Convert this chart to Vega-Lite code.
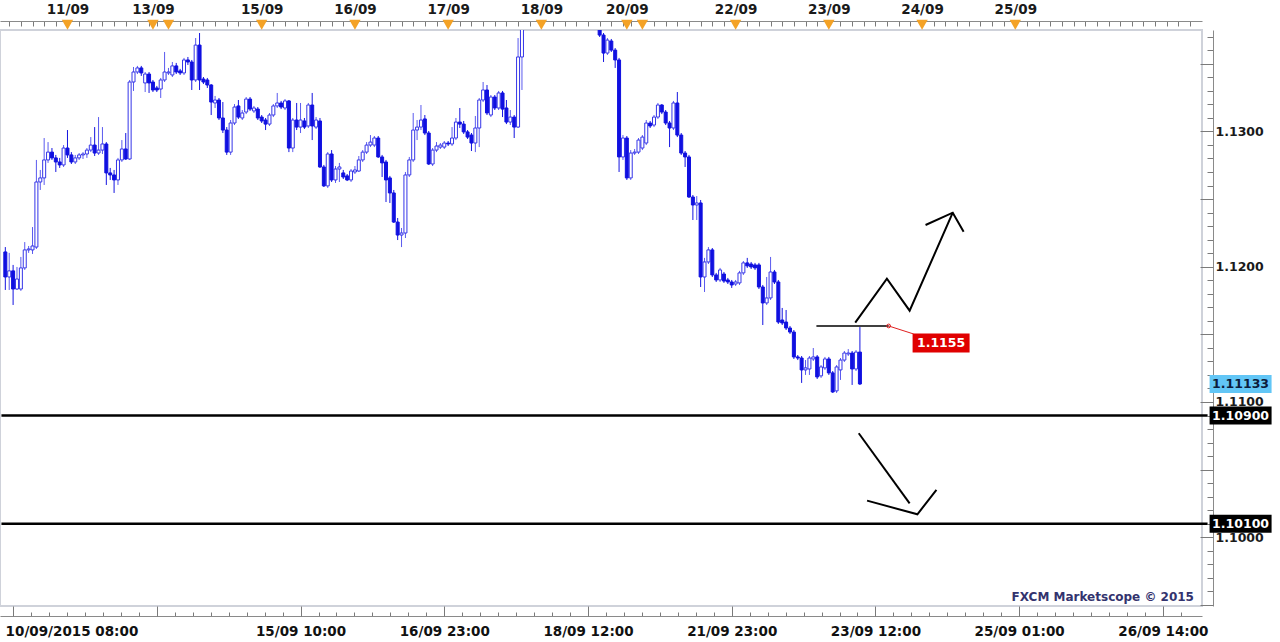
{
 "$schema": "https://vega.github.io/schema/vega-lite/v6.json",
 "width": 1202, "height": 576,
 "autosize": {"type": "none"},
 "padding": {"left": 0, "top": 30, "right": 78, "bottom": 36},
 "background": "white",
 "config": {"view": {"stroke": "#cfd2da", "strokeWidth": 2},
   "axis": {"labelFont": "DejaVu Sans", "labelFontWeight": "bold", "labelColor": "#1a1a1a", "domainColor": "#8a8a8a", "tickColor": "#7a7a7a", "grid": false, "labelOverlap": false, "labelBound": false},
   "text": {"font": "DejaVu Sans"}},
 "resolve": {"axis": {"x": "independent", "y": "independent"}},
 "datasets": {
  "candles": [
{"i":0,"o":1.12109,"h":1.12145,"l":1.11828,"c":1.11924},
{"i":1,"o":1.11924,"h":1.12102,"l":1.11828,"c":1.11969},
{"i":2,"o":1.11969,"h":1.12013,"l":1.11717,"c":1.11835},
{"i":3,"o":1.11835,"h":1.11998,"l":1.11828,"c":1.11909},
{"i":4,"o":1.11835,"h":1.12072,"l":1.11821,"c":1.11991},
{"i":5,"o":1.11991,"h":1.12182,"l":1.11976,"c":1.12124},
{"i":6,"o":1.12124,"h":1.12153,"l":1.12102,"c":1.12131},
{"i":7,"o":1.12124,"h":1.12293,"l":1.12094,"c":1.12153},
{"i":8,"o":1.12145,"h":1.12789,"l":1.12131,"c":1.12626},
{"i":9,"o":1.12626,"h":1.12715,"l":1.12567,"c":1.12656},
{"i":10,"o":1.12656,"h":1.12951,"l":1.12604,"c":1.12789},
{"i":11,"o":1.12789,"h":1.12921,"l":1.12767,"c":1.12847},
{"i":12,"o":1.12847,"h":1.12877,"l":1.12789,"c":1.12804},
{"i":13,"o":1.12804,"h":1.12826,"l":1.12700,"c":1.12774},
{"i":14,"o":1.12774,"h":1.12804,"l":1.12730,"c":1.12752},
{"i":15,"o":1.12752,"h":1.12899,"l":1.12737,"c":1.12877},
{"i":16,"o":1.12877,"h":1.13010,"l":1.12804,"c":1.12826},
{"i":17,"o":1.12826,"h":1.12847,"l":1.12759,"c":1.12774},
{"i":18,"o":1.12774,"h":1.12826,"l":1.12759,"c":1.12804},
{"i":19,"o":1.12804,"h":1.12840,"l":1.12789,"c":1.12826},
{"i":20,"o":1.12826,"h":1.12847,"l":1.12796,"c":1.12833},
{"i":21,"o":1.12833,"h":1.12877,"l":1.12804,"c":1.12862},
{"i":22,"o":1.12862,"h":1.12958,"l":1.12847,"c":1.12899},
{"i":23,"o":1.12899,"h":1.13032,"l":1.12818,"c":1.12840},
{"i":24,"o":1.12840,"h":1.13106,"l":1.12826,"c":1.12862},
{"i":25,"o":1.12862,"h":1.13032,"l":1.12833,"c":1.12907},
{"i":26,"o":1.12907,"h":1.12921,"l":1.12604,"c":1.12693},
{"i":27,"o":1.12693,"h":1.12730,"l":1.12641,"c":1.12678},
{"i":28,"o":1.12678,"h":1.12715,"l":1.12545,"c":1.12641},
{"i":29,"o":1.12641,"h":1.12804,"l":1.12604,"c":1.12789},
{"i":30,"o":1.12789,"h":1.12936,"l":1.12774,"c":1.12870},
{"i":31,"o":1.12870,"h":1.12988,"l":1.12789,"c":1.12796},
{"i":32,"o":1.12796,"h":1.13380,"l":1.12789,"c":1.13365},
{"i":33,"o":1.13365,"h":1.13476,"l":1.13299,"c":1.13439},
{"i":34,"o":1.13439,"h":1.13484,"l":1.13424,"c":1.13469},
{"i":35,"o":1.13469,"h":1.13484,"l":1.13410,"c":1.13432},
{"i":36,"o":1.13358,"h":1.13439,"l":1.13291,"c":1.13424},
{"i":37,"o":1.13424,"h":1.13439,"l":1.13284,"c":1.13358},
{"i":38,"o":1.13365,"h":1.13380,"l":1.13291,"c":1.13306},
{"i":39,"o":1.13321,"h":1.13336,"l":1.13291,"c":1.13306},
{"i":40,"o":1.13313,"h":1.13395,"l":1.13247,"c":1.13380},
{"i":41,"o":1.13380,"h":1.13587,"l":1.13365,"c":1.13439},
{"i":42,"o":1.13432,"h":1.13469,"l":1.13417,"c":1.13439},
{"i":43,"o":1.13417,"h":1.13513,"l":1.13402,"c":1.13484},
{"i":44,"o":1.13484,"h":1.13506,"l":1.13424,"c":1.13439},
{"i":45,"o":1.13447,"h":1.13462,"l":1.13417,"c":1.13432},
{"i":46,"o":1.13432,"h":1.13543,"l":1.13417,"c":1.13528},
{"i":47,"o":1.13528,"h":1.13550,"l":1.13491,"c":1.13513},
{"i":48,"o":1.13513,"h":1.13528,"l":1.13306,"c":1.13380},
{"i":49,"o":1.13380,"h":1.13690,"l":1.13365,"c":1.13638},
{"i":50,"o":1.13638,"h":1.13727,"l":1.13306,"c":1.13380},
{"i":51,"o":1.13387,"h":1.13402,"l":1.13350,"c":1.13365},
{"i":52,"o":1.13380,"h":1.13395,"l":1.13321,"c":1.13343},
{"i":53,"o":1.13343,"h":1.13350,"l":1.13121,"c":1.13217},
{"i":54,"o":1.13210,"h":1.13262,"l":1.13173,"c":1.13232},
{"i":55,"o":1.13232,"h":1.13247,"l":1.13084,"c":1.13099},
{"i":56,"o":1.13099,"h":1.13217,"l":1.12988,"c":1.13010},
{"i":57,"o":1.13010,"h":1.13032,"l":1.12826,"c":1.12847},
{"i":58,"o":1.12847,"h":1.13084,"l":1.12826,"c":1.13062},
{"i":59,"o":1.13062,"h":1.13202,"l":1.13047,"c":1.13180},
{"i":60,"o":1.13188,"h":1.13232,"l":1.13092,"c":1.13106},
{"i":61,"o":1.13099,"h":1.13158,"l":1.13084,"c":1.13136},
{"i":62,"o":1.13143,"h":1.13254,"l":1.13128,"c":1.13239},
{"i":63,"o":1.13239,"h":1.13254,"l":1.13151,"c":1.13165},
{"i":64,"o":1.13151,"h":1.13188,"l":1.13136,"c":1.13173},
{"i":65,"o":1.13165,"h":1.13180,"l":1.13084,"c":1.13099},
{"i":66,"o":1.13106,"h":1.13121,"l":1.13062,"c":1.13077},
{"i":67,"o":1.13084,"h":1.13099,"l":1.13010,"c":1.13054},
{"i":68,"o":1.13054,"h":1.13136,"l":1.13040,"c":1.13121},
{"i":69,"o":1.13121,"h":1.13202,"l":1.13106,"c":1.13188},
{"i":70,"o":1.13188,"h":1.13284,"l":1.13173,"c":1.13210},
{"i":71,"o":1.13210,"h":1.13225,"l":1.13165,"c":1.13180},
{"i":72,"o":1.13173,"h":1.13239,"l":1.13158,"c":1.13225},
{"i":73,"o":1.13225,"h":1.13232,"l":1.12847,"c":1.12877},
{"i":74,"o":1.12877,"h":1.13099,"l":1.12847,"c":1.13084},
{"i":75,"o":1.13084,"h":1.13210,"l":1.13010,"c":1.13032},
{"i":76,"o":1.13032,"h":1.13210,"l":1.12988,"c":1.13084},
{"i":77,"o":1.13077,"h":1.13099,"l":1.13018,"c":1.13032},
{"i":78,"o":1.13040,"h":1.13210,"l":1.13025,"c":1.13195},
{"i":79,"o":1.13195,"h":1.13284,"l":1.12936,"c":1.13040},
{"i":80,"o":1.13032,"h":1.13106,"l":1.13018,"c":1.13084},
{"i":81,"o":1.13077,"h":1.13099,"l":1.12730,"c":1.12737},
{"i":82,"o":1.12737,"h":1.12752,"l":1.12589,"c":1.12597},
{"i":83,"o":1.12597,"h":1.12847,"l":1.12582,"c":1.12833},
{"i":84,"o":1.12833,"h":1.12862,"l":1.12626,"c":1.12641},
{"i":85,"o":1.12641,"h":1.12744,"l":1.12619,"c":1.12722},
{"i":86,"o":1.12722,"h":1.12767,"l":1.12626,"c":1.12737},
{"i":87,"o":1.12693,"h":1.12715,"l":1.12648,"c":1.12663},
{"i":88,"o":1.12671,"h":1.12685,"l":1.12633,"c":1.12641},
{"i":89,"o":1.12641,"h":1.12722,"l":1.12626,"c":1.12707},
{"i":90,"o":1.12700,"h":1.12744,"l":1.12685,"c":1.12715},
{"i":91,"o":1.12707,"h":1.12818,"l":1.12700,"c":1.12789},
{"i":92,"o":1.12789,"h":1.12862,"l":1.12774,"c":1.12847},
{"i":93,"o":1.12847,"h":1.12921,"l":1.12833,"c":1.12899},
{"i":94,"o":1.12899,"h":1.12973,"l":1.12884,"c":1.12921},
{"i":95,"o":1.12899,"h":1.12966,"l":1.12884,"c":1.12951},
{"i":96,"o":1.12951,"h":1.12966,"l":1.12804,"c":1.12811},
{"i":97,"o":1.12811,"h":1.12826,"l":1.12663,"c":1.12767},
{"i":98,"o":1.12774,"h":1.12789,"l":1.12478,"c":1.12641},
{"i":99,"o":1.12656,"h":1.12671,"l":1.12471,"c":1.12545},
{"i":100,"o":1.12545,"h":1.12567,"l":1.12323,"c":1.12330},
{"i":101,"o":1.12330,"h":1.12360,"l":1.12197,"c":1.12234},
{"i":102,"o":1.12234,"h":1.12286,"l":1.12145,"c":1.12249},
{"i":103,"o":1.12249,"h":1.12700,"l":1.12212,"c":1.12678},
{"i":104,"o":1.12678,"h":1.12811,"l":1.12663,"c":1.12789},
{"i":105,"o":1.12789,"h":1.13136,"l":1.12774,"c":1.13010},
{"i":106,"o":1.13010,"h":1.13084,"l":1.12936,"c":1.13032},
{"i":107,"o":1.13032,"h":1.13195,"l":1.13010,"c":1.13084},
{"i":108,"o":1.13092,"h":1.13121,"l":1.12973,"c":1.12988},
{"i":109,"o":1.12988,"h":1.13003,"l":1.12752,"c":1.12759},
{"i":110,"o":1.12759,"h":1.12877,"l":1.12744,"c":1.12862},
{"i":111,"o":1.12862,"h":1.12921,"l":1.12847,"c":1.12892},
{"i":112,"o":1.12884,"h":1.12914,"l":1.12870,"c":1.12899},
{"i":113,"o":1.12884,"h":1.12929,"l":1.12870,"c":1.12914},
{"i":114,"o":1.12914,"h":1.12929,"l":1.12892,"c":1.12907},
{"i":115,"o":1.12907,"h":1.13032,"l":1.12892,"c":1.12951},
{"i":116,"o":1.12951,"h":1.13099,"l":1.12936,"c":1.13069},
{"i":117,"o":1.13069,"h":1.13173,"l":1.13025,"c":1.13054},
{"i":118,"o":1.13054,"h":1.13077,"l":1.12981,"c":1.12996},
{"i":119,"o":1.12996,"h":1.13010,"l":1.12944,"c":1.12958},
{"i":120,"o":1.12973,"h":1.12988,"l":1.12855,"c":1.12914},
{"i":121,"o":1.12914,"h":1.13114,"l":1.12847,"c":1.13025},
{"i":122,"o":1.13025,"h":1.13247,"l":1.12884,"c":1.13232},
{"i":123,"o":1.13232,"h":1.13365,"l":1.13217,"c":1.13306},
{"i":124,"o":1.13306,"h":1.13343,"l":1.13121,"c":1.13136},
{"i":125,"o":1.13121,"h":1.13269,"l":1.13106,"c":1.13254},
{"i":126,"o":1.13254,"h":1.13269,"l":1.13158,"c":1.13173},
{"i":127,"o":1.13173,"h":1.13299,"l":1.13158,"c":1.13284},
{"i":128,"o":1.13284,"h":1.13299,"l":1.13106,"c":1.13165},
{"i":129,"o":1.13173,"h":1.13232,"l":1.13054,"c":1.13069},
{"i":130,"o":1.13069,"h":1.13158,"l":1.13047,"c":1.13106},
{"i":131,"o":1.13106,"h":1.13121,"l":1.12951,"c":1.13032},
{"i":132,"o":1.13032,"h":1.13690,"l":1.13025,"c":1.13550},
{"i":133,"o":1.13550,"h":1.13860,"l":1.13306,"c":1.13786},
{"i":134,"o":1.13786,"h":1.14020,"l":1.13760,"c":1.13950},
{"i":135,"o":1.13950,"h":1.14210,"l":1.13900,"c":1.14150},
{"i":136,"o":1.14150,"h":1.14360,"l":1.14080,"c":1.14290},
{"i":137,"o":1.14290,"h":1.14400,"l":1.14180,"c":1.14230},
{"i":138,"o":1.14230,"h":1.14330,"l":1.14150,"c":1.14300},
{"i":139,"o":1.14300,"h":1.14380,"l":1.14220,"c":1.14260},
{"i":140,"o":1.14260,"h":1.14420,"l":1.14240,"c":1.14390},
{"i":141,"o":1.14390,"h":1.14470,"l":1.14330,"c":1.14420},
{"i":142,"o":1.14420,"h":1.14520,"l":1.14380,"c":1.14480},
{"i":143,"o":1.14480,"h":1.14600,"l":1.14430,"c":1.14550},
{"i":144,"o":1.14550,"h":1.14610,"l":1.14420,"c":1.14460},
{"i":145,"o":1.14460,"h":1.14500,"l":1.14300,"c":1.14330},
{"i":146,"o":1.14330,"h":1.14380,"l":1.14150,"c":1.14200},
{"i":147,"o":1.14200,"h":1.14280,"l":1.14080,"c":1.14120},
{"i":148,"o":1.14120,"h":1.14180,"l":1.13950,"c":1.14010},
{"i":149,"o":1.14010,"h":1.14090,"l":1.13900,"c":1.13960},
{"i":150,"o":1.13960,"h":1.14050,"l":1.13850,"c":1.13890},
{"i":151,"o":1.13890,"h":1.13960,"l":1.13800,"c":1.13840},
{"i":152,"o":1.13840,"h":1.13900,"l":1.13775,"c":1.13800},
{"i":153,"o":1.13800,"h":1.13823,"l":1.13698,"c":1.13712},
{"i":154,"o":1.13712,"h":1.13727,"l":1.13513,"c":1.13579},
{"i":155,"o":1.13579,"h":1.13690,"l":1.13565,"c":1.13675},
{"i":156,"o":1.13668,"h":1.13683,"l":1.13587,"c":1.13601},
{"i":157,"o":1.13601,"h":1.13616,"l":1.13469,"c":1.13528},
{"i":158,"o":1.13528,"h":1.13543,"l":1.12700,"c":1.12811},
{"i":159,"o":1.12811,"h":1.12973,"l":1.12789,"c":1.12951},
{"i":160,"o":1.12951,"h":1.12966,"l":1.12641,"c":1.12656},
{"i":161,"o":1.12656,"h":1.12862,"l":1.12641,"c":1.12840},
{"i":162,"o":1.12840,"h":1.12870,"l":1.12826,"c":1.12847},
{"i":163,"o":1.12847,"h":1.12951,"l":1.12833,"c":1.12936},
{"i":164,"o":1.12877,"h":1.12973,"l":1.12862,"c":1.12958},
{"i":165,"o":1.12914,"h":1.13084,"l":1.12899,"c":1.13062},
{"i":166,"o":1.13062,"h":1.13077,"l":1.13025,"c":1.13040},
{"i":167,"o":1.13047,"h":1.13121,"l":1.13032,"c":1.13106},
{"i":168,"o":1.13106,"h":1.13210,"l":1.13092,"c":1.13195},
{"i":169,"o":1.13195,"h":1.13202,"l":1.13128,"c":1.13143},
{"i":170,"o":1.13143,"h":1.13158,"l":1.13047,"c":1.13062},
{"i":171,"o":1.13062,"h":1.13077,"l":1.12884,"c":1.13025},
{"i":172,"o":1.13025,"h":1.13225,"l":1.13010,"c":1.13210},
{"i":173,"o":1.13210,"h":1.13291,"l":1.12958,"c":1.12973},
{"i":174,"o":1.12973,"h":1.12988,"l":1.12826,"c":1.12840},
{"i":175,"o":1.12840,"h":1.12855,"l":1.12737,"c":1.12811},
{"i":176,"o":1.12811,"h":1.12826,"l":1.12508,"c":1.12515},
{"i":177,"o":1.12515,"h":1.12530,"l":1.12345,"c":1.12456},
{"i":178,"o":1.12456,"h":1.12522,"l":1.12345,"c":1.12471},
{"i":179,"o":1.12471,"h":1.12493,"l":1.11850,"c":1.11924},
{"i":180,"o":1.11924,"h":1.12065,"l":1.11813,"c":1.12035},
{"i":181,"o":1.12035,"h":1.12145,"l":1.12020,"c":1.12124},
{"i":182,"o":1.12124,"h":1.12138,"l":1.11924,"c":1.11939},
{"i":183,"o":1.11939,"h":1.11954,"l":1.11887,"c":1.11902},
{"i":184,"o":1.11902,"h":1.11991,"l":1.11887,"c":1.11976},
{"i":185,"o":1.11946,"h":1.11961,"l":1.11880,"c":1.11894},
{"i":186,"o":1.11902,"h":1.11917,"l":1.11872,"c":1.11887},
{"i":187,"o":1.11887,"h":1.11902,"l":1.11843,"c":1.11865},
{"i":188,"o":1.11872,"h":1.11902,"l":1.11858,"c":1.11887},
{"i":189,"o":1.11880,"h":1.11969,"l":1.11865,"c":1.11954},
{"i":190,"o":1.11954,"h":1.12042,"l":1.11939,"c":1.12028},
{"i":191,"o":1.12028,"h":1.12065,"l":1.11991,"c":1.12006},
{"i":192,"o":1.12020,"h":1.12035,"l":1.11983,"c":1.11998},
{"i":193,"o":1.12013,"h":1.12028,"l":1.11976,"c":1.11991},
{"i":194,"o":1.12013,"h":1.12028,"l":1.11835,"c":1.11850},
{"i":195,"o":1.11850,"h":1.11865,"l":1.11569,"c":1.11732},
{"i":196,"o":1.11732,"h":1.11924,"l":1.11717,"c":1.11769},
{"i":197,"o":1.11769,"h":1.12072,"l":1.11754,"c":1.11961},
{"i":198,"o":1.11961,"h":1.11976,"l":1.11872,"c":1.11887},
{"i":199,"o":1.11887,"h":1.11902,"l":1.11577,"c":1.11591},
{"i":200,"o":1.11606,"h":1.11695,"l":1.11569,"c":1.11584},
{"i":201,"o":1.11591,"h":1.11680,"l":1.11532,"c":1.11547},
{"i":202,"o":1.11547,"h":1.11562,"l":1.11503,"c":1.11517},
{"i":203,"o":1.11517,"h":1.11532,"l":1.11318,"c":1.11333},
{"i":204,"o":1.11333,"h":1.11347,"l":1.11310,"c":1.11325},
{"i":205,"o":1.11325,"h":1.11340,"l":1.11141,"c":1.11237},
{"i":206,"o":1.11237,"h":1.11310,"l":1.11200,"c":1.11252},
{"i":207,"o":1.11244,"h":1.11340,"l":1.11200,"c":1.11325},
{"i":208,"o":1.11318,"h":1.11399,"l":1.11303,"c":1.11333},
{"i":209,"o":1.11333,"h":1.11347,"l":1.11170,"c":1.11185},
{"i":210,"o":1.11193,"h":1.11273,"l":1.11178,"c":1.11259},
{"i":211,"o":1.11252,"h":1.11333,"l":1.11237,"c":1.11318},
{"i":212,"o":1.11318,"h":1.11333,"l":1.11200,"c":1.11215},
{"i":213,"o":1.11215,"h":1.11229,"l":1.11067,"c":1.11074},
{"i":214,"o":1.11082,"h":1.11273,"l":1.11067,"c":1.11259},
{"i":215,"o":1.11237,"h":1.11325,"l":1.11163,"c":1.11310},
{"i":216,"o":1.11310,"h":1.11377,"l":1.11296,"c":1.11362},
{"i":217,"o":1.11355,"h":1.11391,"l":1.11340,"c":1.11362},
{"i":218,"o":1.11362,"h":1.11377,"l":1.11126,"c":1.11244},
{"i":219,"o":1.11244,"h":1.11384,"l":1.11229,"c":1.11369},
{"i":220,"o":1.11369,"h":1.11554,"l":1.11126,"c":1.11133}
  ],
  "days": [{"i":16},{"i":38},{"i":42},{"i":66},{"i":90},{"i":114},{"i":138},{"i":160},{"i":164},{"i":188},{"i":212},{"i":236},{"i":260}],
  "levels": [{"p":1.109},{"p":1.101}],
  "tags": [{"p":1.11133,"t":"1.11133","k":"cur"},{"p":1.109,"t":"1.10900","k":"lvl"},{"p":1.101,"t":"1.10100","k":"lvl"}],
  "draw": [
   {"seg":"up","k":0,"i":218.8,"p":1.11586},{"seg":"up","k":1,"i":226.95,"p":1.11911},{"seg":"up","k":2,"i":232.8,"p":1.11675},{"seg":"up","k":3,"i":243.9,"p":1.12399},
   {"seg":"uphead","k":0,"i":236.9,"p":1.12308},{"seg":"uphead","k":1,"i":243.9,"p":1.12399},{"seg":"uphead","k":2,"i":246.7,"p":1.12259},
   {"seg":"down","k":0,"i":219.7,"p":1.10769},{"seg":"down","k":1,"i":232.8,"p":1.10251},
   {"seg":"downhead","k":0,"i":221.85,"p":1.10271},{"seg":"downhead","k":1,"i":234.8,"p":1.10170},{"seg":"downhead","k":2,"i":239.7,"p":1.10350},
   {"seg":"hline","k":0,"i":208.8,"p":1.11562},{"seg":"hline","k":1,"i":227.4,"p":1.11562}
  ],
  "red": [{"k":0,"i":227.4,"p":1.11562},{"k":1,"i":233.8,"p":1.11503}],
  "redtag": [{"i":240.9,"p":1.11436,"t":"1.1155"}],
  "mark": [{"t":"FXCM Marketscope © 2015"}]
 },
 "layer": [
  {"data": {"name": "candles"},
   "mark": {"type": "rule", "clip": true, "strokeWidth": 1},
   "encoding": {
    "x": {"field": "i", "type": "quantitative", "scale": {"domain": [-0.084, 306.78], "nice": false, "zero": false},
      "axis": {"orient": "bottom", "offset": 10, "title": null, "labels": false, "tickSize": -4, "domain": true,
        "values": [2,6.625,11.25,15.875,20.5,25.125,29.75,34.375,39,43.625,48.25,52.875,57.5,62.125,66.75,71.375,76,80.625,85.25,89.875,94.5,99.125,103.75,108.375,113,117.625,122.25,126.875,131.5,136.125,140.75,145.375,150,154.625,159.25,163.875,168.5,173.125,177.75,182.375,187,191.625,196.25,200.875,205.5,210.125,214.75,219.375,224,228.625,233.25,237.875,242.5,247.125,251.75,256.375,261,265.625,270.25,274.875,279.5,284.125,288.75,293.375,298,302.625]}},
    "y": {"field": "l", "type": "quantitative", "scale": {"domain": [1.094922, 1.137494], "nice": false, "zero": false},
      "axis": {"orient": "right", "offset": 11, "title": null, "labels": false, "tickSize": -6, "domain": true,
        "values": [1.095,1.096,1.097,1.098,1.099,1.1,1.101,1.102,1.103,1.104,1.105,1.106,1.107,1.108,1.109,1.11,1.111,1.112,1.113,1.114,1.115,1.116,1.117,1.118,1.119,1.12,1.121,1.122,1.123,1.124,1.125,1.126,1.127,1.128,1.129,1.13,1.131,1.132,1.133,1.134,1.135,1.136,1.137]}},
    "y2": {"field": "h"},
    "color": {"condition": {"test": "datum.c >= datum.o", "value": "#5a5aee"}, "value": "#1414e0"}
   }},
  {"data": {"name": "candles"},
   "mark": {"type": "bar", "clip": true, "width": 3, "strokeWidth": 1},
   "encoding": {
    "x": {"field": "i", "type": "quantitative", "scale": {"domain": [-0.084, 306.78], "nice": false, "zero": false},
      "axis": {"orient": "bottom", "offset": 10, "title": null, "labels": false, "tickSize": -10, "domain": false,
        "values": [2,39,76,113,150,187,224,261,298]}},
    "y": {"field": "o", "type": "quantitative", "scale": {"domain": [1.094922, 1.137494], "nice": false, "zero": false},
      "axis": {"orient": "right", "offset": 11, "title": null, "labels": false, "tickSize": -13, "domain": false,
        "values": [1.095,1.1,1.105,1.11,1.115,1.12,1.125,1.13,1.135]}},
    "y2": {"field": "c"},
    "fill": {"condition": {"test": "datum.c >= datum.o", "value": "#ffffff"}, "value": "#1010e0"},
    "stroke": {"condition": {"test": "datum.c >= datum.o", "value": "#3535e8"}, "value": "#1010e0"}
   }},
  {"data": {"name": "candles"},
   "mark": {"type": "point", "opacity": 0},
   "encoding": {
    "x": {"field": "i", "type": "quantitative", "scale": {"domain": [-0.084, 306.78], "nice": false, "zero": false},
      "axis": {"orient": "bottom", "offset": 10, "title": null, "ticks": false, "domain": false, "labelPadding": 8, "labelFontSize": 13.5, "labelColor": "#111111",
        "labelFlush": 15, "labelFlushOffset": 8,
        "values": [2,76,113,150,187,224,261,298],
        "labelExpr": "['10/09/2015 08:00','15/09 10:00','16/09 23:00','18/09 12:00','21/09 23:00','23/09 12:00','25/09 01:00','26/09 14:00'][indexof([2,76,113,150,187,224,261,298], datum.value)]"}},
    "y": {"field": "c", "type": "quantitative", "scale": {"domain": [1.094922, 1.137494], "nice": false, "zero": false},
      "axis": {"orient": "right", "offset": 11, "title": null, "ticks": false, "domain": false, "labelPadding": 2, "labelFontSize": 12.5, "labelAlign": "left",
        "values": [1.1,1.11,1.12,1.13], "format": ".4f"}}
   }},
  {"data": {"name": "days"},
   "mark": {"type": "point", "opacity": 0},
   "encoding": {
    "x": {"field": "i", "type": "quantitative", "scale": {"domain": [-0.084, 306.78], "nice": false, "zero": false},
      "axis": {"orient": "top", "offset": 9, "title": null, "labels": false, "tickSize": -5, "domain": true,
        "values": [1,4,7,10,13,16,19,22,25,28,31,34,37,39,42,45,48,51,54,57,60,63,66,69,72,75,78,81,84,87,90,93,96,99,102,105,108,111,114,117,120,123,126,129,132,135,138,141,144,147,150,153,156,159,161,164,167,170,173,176,179,182,185,188,191,194,197,200,203,206,209,212,215,218,221,224,227,230,233,236,239,242,245,248,251,254,257,260,263,266,269,272,275,278,281,284,287,290,293,296,299,302,305]}},
    "y": {"datum": 1.13794, "type": "quantitative", "scale": {"domain": [1.094922, 1.137494], "nice": false, "zero": false}, "axis": null}
   }},
  {"data": {"name": "days"},
   "mark": {"type": "point", "shape": "triangle-down", "filled": true, "size": 130, "color": "#f4a226", "opacity": 1},
   "encoding": {
    "x": {"field": "i", "type": "quantitative", "scale": {"domain": [-0.084, 306.78], "nice": false, "zero": false},
      "axis": {"orient": "top", "offset": 9, "title": null, "ticks": false, "domain": false, "labelPadding": 5, "labelFontSize": 13.5, "labelColor": "#1a1a1a",
        "values": [16,38,66,90,114,138,160,188,212,236,260],
        "labelExpr": "['11/09','13/09','15/09','16/09','17/09','18/09','20/09','22/09','23/09','24/09','25/09'][indexof([16,38,66,90,114,138,160,188,212,236,260], datum.value)]"}},
    "y": {"datum": 1.13788, "type": "quantitative", "scale": {"domain": [1.094922, 1.137494], "nice": false, "zero": false}, "axis": null}
   }},
  {"data": {"name": "levels"},
   "mark": {"type": "rule", "color": "#000000", "strokeWidth": 2.5},
   "encoding": {
    "x": {"datum": -1, "type": "quantitative", "scale": {"domain": [-0.084, 306.78], "nice": false, "zero": false}, "axis": null},
    "x2": {"datum": 309.5},
    "y": {"field": "p", "type": "quantitative", "scale": {"domain": [1.094922, 1.137494], "nice": false, "zero": false}, "axis": null}
   }},
  {"data": {"name": "draw"},
   "mark": {"type": "line", "color": "#000000", "strokeJoin": "miter"},
   "encoding": {
    "x": {"field": "i", "type": "quantitative", "scale": {"domain": [-0.084, 306.78], "nice": false, "zero": false}, "axis": null},
    "y": {"field": "p", "type": "quantitative", "scale": {"domain": [1.094922, 1.137494], "nice": false, "zero": false}, "axis": null},
    "detail": {"field": "seg"},
    "order": {"field": "k"},
    "strokeWidth": {"condition": {"test": "datum.seg == 'hline'", "value": 1.6}, "value": 2}
   }},
  {"data": {"name": "red"},
   "mark": {"type": "line", "color": "#e02020", "strokeWidth": 1},
   "encoding": {
    "x": {"field": "i", "type": "quantitative", "scale": {"domain": [-0.084, 306.78], "nice": false, "zero": false}, "axis": null},
    "y": {"field": "p", "type": "quantitative", "scale": {"domain": [1.094922, 1.137494], "nice": false, "zero": false}, "axis": null},
    "order": {"field": "k"}
   }},
  {"data": {"name": "red"},
   "transform": [{"filter": "datum.k == 0"}],
   "mark": {"type": "point", "shape": "circle", "size": 14, "filled": false, "color": "#e02020", "strokeWidth": 1, "opacity": 1},
   "encoding": {
    "x": {"field": "i", "type": "quantitative", "scale": {"domain": [-0.084, 306.78], "nice": false, "zero": false}, "axis": null},
    "y": {"field": "p", "type": "quantitative", "scale": {"domain": [1.094922, 1.137494], "nice": false, "zero": false}, "axis": null}
   }},
  {"data": {"name": "redtag"},
   "mark": {"type": "point", "shape": "M-1,-0.33H1V0.33H-1Z", "size": 3249, "filled": true, "color": "#e00000", "opacity": 1},
   "encoding": {
    "x": {"field": "i", "type": "quantitative", "scale": {"domain": [-0.084, 306.78], "nice": false, "zero": false}, "axis": null},
    "y": {"field": "p", "type": "quantitative", "scale": {"domain": [1.094922, 1.137494], "nice": false, "zero": false}, "axis": null}
   }},
  {"data": {"name": "redtag"},
   "mark": {"type": "text", "color": "#ffffff", "fontWeight": "bold", "fontSize": 12.5, "align": "center", "baseline": "middle"},
   "encoding": {
    "x": {"field": "i", "type": "quantitative", "scale": {"domain": [-0.084, 306.78], "nice": false, "zero": false}, "axis": null},
    "y": {"field": "p", "type": "quantitative", "scale": {"domain": [1.094922, 1.137494], "nice": false, "zero": false}, "axis": null},
    "text": {"field": "t"}
   }},
  {"data": {"name": "tags"},
   "mark": {"type": "point", "shape": "M-1,-0.29H1V0.29H-1Z", "size": 3844, "filled": true, "opacity": 1},
   "encoding": {
    "x": {"datum": 318, "type": "quantitative", "scale": {"domain": [-0.084, 306.78], "nice": false, "zero": false}, "axis": null},
    "y": {"field": "p", "type": "quantitative", "scale": {"domain": [1.094922, 1.137494], "nice": false, "zero": false}, "axis": null},
    "color": {"condition": {"test": "datum.k == 'cur'", "value": "#62c6f6"}, "value": "#000000"}
   }},
  {"data": {"name": "tags"},
   "mark": {"type": "text", "fontWeight": "bold", "fontSize": 12.5, "align": "center", "baseline": "middle"},
   "encoding": {
    "x": {"datum": 318, "type": "quantitative", "scale": {"domain": [-0.084, 306.78], "nice": false, "zero": false}, "axis": null},
    "y": {"field": "p", "type": "quantitative", "scale": {"domain": [1.094922, 1.137494], "nice": false, "zero": false}, "axis": null},
    "text": {"field": "t"},
    "color": {"condition": {"test": "datum.k == 'cur'", "value": "#0c1c3c"}, "value": "#ffffff"}
   }},
  {"data": {"name": "mark"},
   "mark": {"type": "text", "fontWeight": "bold", "fontSize": 12, "align": "right", "baseline": "middle", "color": "#33336e"},
   "encoding": {
    "x": {"datum": 306, "type": "quantitative", "scale": {"domain": [-0.084, 306.78], "nice": false, "zero": false}, "axis": null},
    "y": {"datum": 1.09559, "type": "quantitative", "scale": {"domain": [1.094922, 1.137494], "nice": false, "zero": false}, "axis": null},
    "text": {"field": "t"}
   }}
 ]
}
